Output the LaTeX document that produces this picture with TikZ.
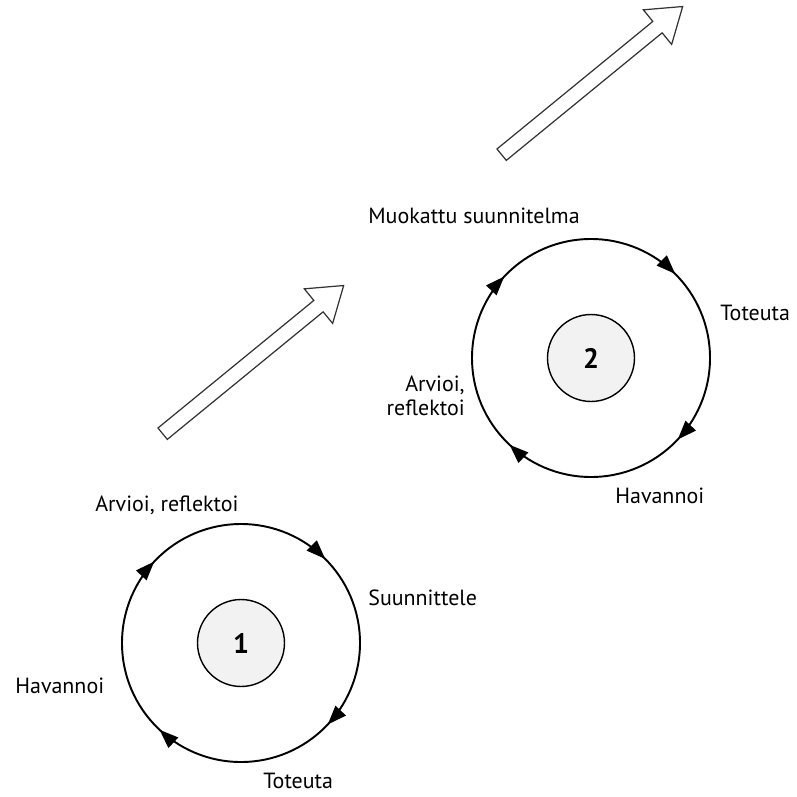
\documentclass[tikz,border=0pt]{standalone}
\usepackage{fontspec}
\setmainfont{PT Sans}
\usetikzlibrary{arrows.meta,shapes.arrows,decorations.markings}

\begin{document}
\begin{tikzpicture}[x=0.02cm,y=0.02cm]
    \tikzstyle{core}=[circle,draw,line width=0.8pt,fill=black!5,minimum size=1.74cm,font=\bfseries\fontsize{16}{18}\selectfont]
    \tikzstyle{turn}=[line width=1.1pt,postaction=decorate,decoration={markings,
        mark=at position 0.125 with {\arrowreversed{Triangle[length=0.38cm,width=0.28cm]}},
        mark=at position 0.38 with {\arrowreversed{Triangle[length=0.38cm,width=0.28cm]}},
        mark=at position 0.63 with {\arrowreversed{Triangle[length=0.38cm,width=0.28cm]}},
        mark=at position 0.88 with {\arrowreversed{Triangle[length=0.38cm,width=0.28cm]}}}]
    \tikzstyle{lbl}=[inner sep=0pt,font=\fontsize{12.5}{13.5}\selectfont]
    \tikzstyle{bigarrow}=[single arrow,draw=black!80,line width=0.7pt,minimum height=4.68cm,inner sep=0.135cm,single arrow head extend=0.3cm,single arrow tip angle=69,rotate=39.3]
    \useasboundingbox (0,0) rectangle (797,796);
    \node (core1) at (241,153) [core] {1};
    \node (core2) at (591,438) [core] {2};
    \draw [turn] (core1.center) circle [radius=119];
    \draw [turn] (core2.center) circle [radius=119];
    \node (plan1) at (95,285) [lbl,anchor=base west] {Arvioi, reflektoi};
    \node (plan1b) at (368,191) [lbl,anchor=base west] {Suunnittele};
    \node (obs1) at (15,103) [lbl,anchor=base west] {Havannoi};
    \node (act1) at (263,8) [lbl,anchor=base west] {Toteuta};
    \node (plan2) at (368,573) [lbl,anchor=base west] {Muokattu suunnitelma};
    \node (act2) at (720,476) [lbl,anchor=base west] {Toteuta};
    \node (eval2) at (465,400) [lbl,anchor=east,align=right] {Arvioi,\\reflektoi};
    \node (obs2) at (615,293) [lbl,anchor=base west] {Havannoi};
    \node (step1) at (249,433) [bigarrow] {};
    \node (step2) at (588,712) [bigarrow] {};
  \end{tikzpicture}
\end{document}
